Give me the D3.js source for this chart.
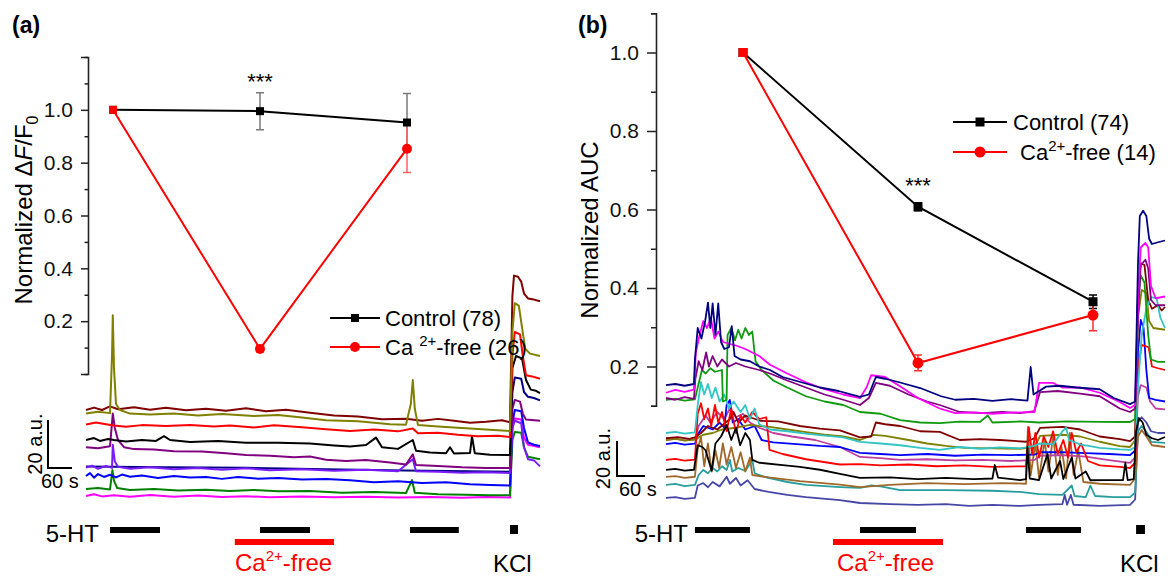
<!DOCTYPE html>
<html><head><meta charset="utf-8">
<script src="https://cdn.jsdelivr.net/npm/d3@7"></script>
<style>body{margin:0;background:#fff}svg{display:block}text{font-family:"Liberation Sans",Arial,sans-serif}</style>
</head><body><svg id="c" width="1172" height="578"></svg>
<script>
// ---------- summary data ----------
const applications = [0, 1, 2];
const controlA = [1.0, 0.995, 0.952];
const controlAErr = [0, 0.07, 0.11];
const cafreeA = [1.0, 0.095, 0.853];
const cafreeAErr = [0, 0.012, 0.09];
const controlB = [1.0, 0.607, 0.365];
const controlBErr = [0, 0.01, 0.017];
const cafreeB = [1.0, 0.209, 0.331];
const cafreeBErr = [0, 0.02, 0.04];
const legendA = ["Control (78)", "(26)"];
const legendB = ["Control (74)", "(14)"];
const majorTicksA = [0, 0.2, 0.4, 0.6, 0.8, 1.0, 1.2];
const minorTicksA = [0.1, 0.3, 0.5, 0.7, 0.9, 1.1];
const labelTicks = [0.2, 0.4, 0.6, 0.8, 1.0];
const majorTicksB = [0.2, 0.4, 0.6, 0.8, 1.0];
const minorTicksB = [0.1, 0.3, 0.5, 0.7, 0.9, 1.1];

// stimulus periods (s): [start, end]
const htA = [[60, 185], [435, 560], [810, 932]];
const kclA = [1060, 1080];
const caFreeA = [372, 620];
const htB = [[62, 180], [416, 536], [772, 890]];
const kclB = [1008, 1027];
const caFreeB = [358, 594];

// ---------- trace data (a): [time s, a.u.] ----------
const aNavy = [[0,14],[200,13.6],[400,13.4],[600,12.8],[800,12.3],[1060,11.8],[1066,45],[1072,51],[1088,50.5],[1095,45],[1105,43],[1120,42.5],[1135,41.5]];
const aMagenta = [[0,1.7],[20,2.4],[40,1.5],[70,2],[110,1.4],[160,2.1],[220,1.4],[280,1.9],[340,1.2],[400,1.6],[460,1.1],[540,1.5],[620,1.1],[700,1.4],[780,1],[860,1.3],[940,0.9],[1000,1.2],[1060,1],[1066,30],[1072,34],[1088,33.5],[1095,26],[1105,23],[1135,22]];
const aGreen = [[0,4.6],[30,5],[60,4.4],[66,12.5],[70,8],[78,5],[110,4.2],[170,4.6],[230,4],[300,4.3],[360,3.8],[420,4.2],[480,3.6],[560,3.7],[640,3],[720,3.3],[800,2.9],[815,8.3],[822,3],[880,2.4],[950,2.2],[1010,2],[1060,2],[1066,25],[1072,28.3],[1088,28],[1095,22],[1105,18],[1120,17.5],[1135,17]];
const aBlue = [[0,10],[10,11.2],[20,9.3],[30,10.8],[45,9.6],[60,10.5],[75,9.4],[90,10.6],[110,9.7],[140,10.2],[180,9.2],[220,10],[260,9.4],[300,9.6],[340,8.8],[380,9.6],[430,8.9],[480,9.2],[540,8.5],[600,8.8],[660,8.2],[720,7.4],[780,7.8],[840,7.1],[900,7.4],[960,6.6],[1010,6.3],[1060,6],[1066,32],[1072,37.5],[1088,37],[1095,30],[1105,24],[1120,23],[1135,22.5]];
const aViolet = [[0,13.5],[15,14.3],[30,13],[50,14.2],[65,13.4],[67,23],[72,16],[80,13.8],[110,13],[160,13.6],[220,12.8],[280,13.3],[340,12.6],[400,13.2],[460,12.4],[540,12.8],[620,12.2],[700,12.6],[780,12],[817,17],[825,12],[880,11.8],[940,11.4],[1000,11.6],[1060,11.2],[1066,30],[1072,33],[1088,32],[1095,22],[1105,17],[1120,16.5],[1135,14]];
const aPurple = [[0,22],[30,21.6],[60,22.4],[67,36],[72,30],[80,25],[95,22],[120,21.2],[170,21],[220,20.3],[290,20.2],[350,19.5],[400,18.8],[460,18.4],[520,17.8],[560,18.1],[600,16.8],[650,16.2],[700,16.7],[760,15.6],[800,14.8],[817,19],[825,14.6],[880,14.2],[940,13.6],[1000,13.3],[1060,13.3],[1066,38],[1072,41.7],[1085,41],[1092,36],[1100,33.5],[1135,33]];
const aBlack = [[0,25],[20,25.8],[35,24.6],[55,25.4],[70,25],[100,24.4],[140,25],[175,24.6],[195,26.6],[210,25],[260,24.2],[330,24.6],[400,23.9],[480,23.9],[560,23.5],[620,22.7],[660,22.3],[700,22.9],[725,26],[740,22],[780,21.3],[817,25],[825,20.5],[860,19.8],[900,19.5],[910,22],[920,19.4],[960,19.6],[965,26.5],[972,19.5],[1010,18.9],[1060,18.8],[1066,55],[1075,60],[1090,59],[1100,50],[1112,46],[1125,45.5],[1135,44.5]];
const aRed = [[0,31.5],[25,32.3],[50,31.6],[70,31],[100,30.5],[140,31.2],[200,30.8],[260,31.3],[320,30.6],[360,31],[420,30.2],[470,31.1],[540,30.3],[600,29.5],[660,28.8],[720,29.4],[780,28.6],[817,29.8],[830,27.8],[880,28],[930,27.2],[980,26.6],[1030,26.8],[1060,26.2],[1066,60],[1072,70],[1085,69],[1092,60],[1100,52],[1115,51.5],[1135,50.5]];
const aMaroon = [[0,37.5],[20,38.5],[40,37.5],[60,39],[80,37.8],[120,38.6],[160,37.6],[200,38.4],[250,37.4],[300,38],[350,37.2],[400,38.2],[450,37],[500,37.6],[560,36.4],[620,35.2],[680,34.8],[740,33.6],[800,33.9],[840,33],[880,33.8],[920,33],[960,32.2],[1000,32.6],[1040,33.2],[1060,32.4],[1066,85],[1070,93.5],[1080,93],[1088,91],[1095,86],[1105,84],[1120,83.5],[1135,82.8]];
const aOlive = [[0,36],[30,36.8],[60,36.2],[65,60],[67,77],[70,55],[75,40],[85,37.5],[110,36],[160,35.6],[220,36],[280,35.2],[340,35.8],[420,35],[480,35.4],[540,34.4],[600,33.2],[680,32.8],[760,31.6],[800,31.4],[812,40],[817,50],[822,38],[830,31.2],[880,30.6],[940,30],[1000,29.4],[1060,28.8],[1066,70],[1072,82],[1082,81],[1090,72],[1098,63],[1110,61],[1135,60]];

// ---------- trace data (b): [time s, a.u.] ----------
const bSlate = [[0,6.9],[20,7.4],[40,6.3],[62,6.9],[68,14],[80,15.4],[90,13],[100,16],[115,13.5],[130,19],[137,15],[150,18.3],[160,14],[175,17],[190,12],[220,10.3],[260,8.6],[300,7.4],[373,5.7],[416,4],[480,3.4],[540,2.9],[600,3.4],[650,2.3],[700,2.9],[760,2.3],[800,2.9],[850,3.4],[855,8.6],[860,3],[868,8.6],[874,3],[930,2.3],[995,2.9],[1006,6],[1012,50],[1020,53],[1030,50],[1040,45],[1055,44],[1070,44]];
const bTeal = [[0,14.3],[20,14.9],[40,13.7],[62,14.3],[70,20],[80,22.9],[90,21],[100,24],[110,22],[120,25],[130,22.9],[137,28.6],[142,22],[155,24],[170,22.3],[185,28.6],[190,21],[210,19],[260,16],[300,14.3],[373,13.1],[416,12.6],[440,14],[460,13.5],[502,11.4],[600,11.4],[700,11],[759,10.3],[800,9.1],[850,8.6],[870,14],[876,8],[900,7.4],[910,14],[920,8],[960,7.4],[995,7.4],[1006,10],[1012,45],[1020,48],[1032,44],[1040,38.9],[1070,38.3]];
const bBrown = [[0,18.9],[20,19.4],[40,18.3],[62,19],[68,35],[75,41.7],[82,25],[90,38],[98,22],[106,34],[114,24],[122,38],[130,26],[140,36],[150,24],[160,33],[170,22],[180,30],[185,20],[220,18.6],[287,16.5],[373,14.5],[416,13.1],[480,14.3],[560,15.4],[640,14.8],[720,15.4],[772,15],[776,47.4],[782,20],[792,38],[800,18],[812,40],[820,22],[830,42],[840,20],[848,36],[858,18],[866,44],[874,20],[884,34],[895,16],[930,15],[995,14.3],[1006,18],[1012,42],[1020,45.7],[1030,42],[1042,37],[1070,36]];
const bViolet = [[0,40],[20,40.6],[40,39.8],[62,40.4],[70,48],[85,54],[95,50],[110,56],[125,52],[137,58],[150,53],[165,55],[180,50],[200,47],[230,44],[270,42],[320,40],[373,36],[416,30.3],[460,29.7],[502,28.6],[560,29],[620,28.3],[680,28.6],[740,28],[790,28.6],[802,31],[850,31.4],[900,30.5],[950,28.5],[995,26.9],[1006,30],[1012,65],[1018,71.4],[1030,70],[1038,62],[1050,58],[1070,57.5]];
const bBlue = [[0,37.7],[20,38.3],[40,37.3],[62,37.9],[70,44],[80,48],[100,46],[115,50],[125,47],[130,60],[137,62.9],[143,50],[155,52],[170,46],[190,48],[205,40],[230,38.6],[280,37.7],[330,36.6],[373,36],[416,32.6],[460,32],[502,31.4],[560,32],[620,31],[680,31.6],[740,31.4],[790,31.6],[802,33],[850,33],[900,32.5],[950,32],[995,31.4],[1006,34],[1012,90],[1018,108.6],[1024,104],[1030,80],[1036,64],[1050,62.9],[1070,62]];
const bOlive = [[0,40],[20,40.8],[40,39.6],[62,40.2],[80,43],[100,44],[120,46],[150,47],[180,48.6],[200,48],[223,47.5],[260,46],[300,44.5],[340,43],[380,42],[416,40],[445,42.9],[470,42.3],[520,40],[560,38],[600,36.6],[640,35.5],[700,35.2],[759,35],[790,36],[802,42.3],[850,43],[888,42],[930,39],[973,36.5],[995,36],[1006,40],[1012,110],[1020,125.7],[1030,124],[1036,108],[1045,104],[1070,103]];
const bMaroon = [[0,41],[25,41.6],[50,40.6],[62,41.5],[75,44],[90,48],[110,46],[137,52],[145,56],[155,50],[170,54],[180,53],[202,51],[240,50.6],[287,48],[330,46.5],[373,45.5],[416,41.5],[440,42],[450,50],[470,49],[502,48],[545,45],[587,44.6],[630,40],[673,40.5],[716,40],[772,39],[790,41],[802,46.9],[850,47.5],[888,46],[930,42],[973,40.5],[995,39.4],[1006,42],[1012,125],[1018,141],[1026,140],[1034,120],[1042,115],[1055,117],[1063,114],[1070,116]];
const bCyan = [[0,44],[20,44.6],[40,43.6],[62,44.4],[68,60],[75,73],[82,66],[90,72],[98,64],[106,70],[115,62],[125,66],[135,58],[145,62],[160,56],[170,60],[180,52],[190,58],[200,49],[223,46],[260,45],[300,43.6],[340,42.5],[380,41.5],[416,38.9],[460,38],[502,37],[545,35.5],[587,34.3],[630,36],[673,35],[716,35.8],[760,35.2],[790,36.6],[800,38],[830,37.5],[850,45],[858,47],[864,40],[888,37.5],[930,35.5],[973,34.6],[995,34.3],[1006,36],[1012,70],[1020,100],[1030,115],[1040,121.7],[1052,121],[1060,110],[1070,104]];
const bRed = [[0,28.6],[20,29.2],[40,28.2],[62,28.8],[68,55],[75,61],[82,52],[90,58],[97,48],[105,60],[112,50],[120,56],[130,45],[140,58],[150,44],[160,54],[170,50],[185,56],[200,52],[215,53],[222,34.3],[250,32],[300,29],[373,26],[416,26.2],[460,25.5],[520,26],[580,25],[640,25.5],[700,24.6],[772,25],[778,47.4],[785,32],[792,44],[800,30],[810,42],[820,36],[830,45],[840,32],[852,40],[862,30],[870,44],[880,33],[890,38],[905,28],[930,25.5],[973,24.6],[995,24],[1006,27],[1012,80],[1020,94.3],[1035,93],[1042,82],[1055,81],[1070,80]];
const bGreen = [[0,62.9],[20,63.5],[40,62.5],[62,63.2],[77,80],[85,78],[95,81],[105,79],[120,80],[122,62],[130,63],[132,100],[140,104],[148,97],[155,103],[162,98],[170,104],[178,100],[185,102],[192,85],[205,80],[230,74],[260,70],[300,65],[340,62],[380,60],[416,56],[460,55],[502,51.4],[545,50],[587,49.7],[630,50.5],[673,50.3],[690,54],[700,50],[760,50.6],[800,50],[860,50.6],[930,50.3],[995,50.3],[1006,52],[1012,120],[1018,134],[1026,130],[1034,100],[1040,86],[1055,84.6],[1070,84.6]];
const bPurple = [[0,64],[20,63],[40,64.5],[60,63.5],[63,75],[70,85],[78,80],[86,90],[92,82],[100,88],[110,82],[120,86],[135,82],[150,84],[170,82],[200,80],[223,78],[260,74],[300,70],[340,66],[380,63],[416,60],[435,64],[450,72.6],[480,71],[520,66],[560,62],[587,60],[630,56],[680,55.4],[720,56],[759,55.4],[790,56.5],[802,67.4],[840,68],[888,66.5],[930,65],[973,58],[995,56],[1006,58],[1012,110],[1018,140],[1028,143],[1034,138],[1040,120],[1050,117],[1070,117]];
const bMagenta = [[0,67],[20,68.6],[40,67.5],[60,68.8],[64,90],[72,100],[80,108],[88,104],[96,110],[104,98],[112,102],[122,96],[135,95],[150,94],[170,92],[200,88],[223,83],[260,78],[300,73],[340,69],[380,66],[416,64],[430,70],[440,77],[470,76],[500,71],[540,64],[587,58],[620,55.4],[660,55.8],[700,55],[740,55.6],[790,56],[800,72.6],[830,72.6],[850,70],[888,70],[930,67],[973,61.7],[995,58.3],[1006,60],[1012,120],[1018,150],[1028,152.6],[1034,150],[1040,128],[1050,121],[1070,122]];
const bNavy = [[0,71.4],[20,72],[40,71],[60,72],[62,86],[68,104],[76,98],[84,108],[90,118.5],[95,104],[100,118],[106,100],[112,118],[118,96],[125,92],[135,93],[141,105],[147,88],[160,86],[180,85],[200,82],[223,80],[250,76],[290,73],[330,70],[370,68],[416,64.6],[435,66],[450,76],[470,75],[500,73],[545,69.7],[590,65],[620,63],[660,63.5],[700,62.4],[740,63.3],[775,62.5],[782,81.7],[788,66],[800,68],[815,70.5],[845,71],[880,70],[930,69],[960,64],[995,60.5],[1006,62],[1012,140],[1016,168],[1023,171],[1030,168],[1036,155],[1042,152],[1055,153],[1070,154]];
const bBlack = [[0,22.9],[20,23.5],[40,22.5],[60,23],[68,37],[78,36],[85,34],[98,22.5],[106,38],[118,42],[130,48.6],[140,40],[150,47],[159,37],[170,44],[180,40],[185,28.6],[200,27],[250,25.7],[287,24.6],[330,23],[373,20.6],[416,18.3],[480,18.6],[540,17.7],[600,18.3],[660,17.7],[700,18],[705,25.7],[712,18.5],[759,17.1],[772,17.7],[775,36],[780,18],[800,17.1],[818,32],[826,18],[845,28],[852,17.7],[870,30],[878,18],[900,22],[910,17],[940,17.1],[980,17.1],[985,27],[990,17.1],[1003,17.7],[1008,45],[1014,52.6],[1022,50],[1030,43],[1042,41],[1055,40],[1070,41.7]];

const tracesA = [aNavy, aMagenta, aGreen, aBlue, aViolet, aPurple, aBlack, aRed, aMaroon, aOlive];
const colorsA = ["#000080","#ff00ff","#008000","#0000ff","#7a1cff","#800080","#000000","#ff0000","#800000","#808000"];
const tracesB = [bSlate, bTeal, bBrown, bViolet, bBlue, bOlive, bMaroon, bRed, bCyan, bGreen, bPurple, bMagenta, bNavy, bBlack];
const colorsB = ["#4646a6","#279d9d","#a0692a","#bf3f9f","#0000ff","#808000","#800000","#ff0000","#33c4c4","#109a10","#800080","#ff00ff","#000080","#000000"];

// ---------- drawing ----------
const svg = d3.select("#c");
const FONT = '"Liberation Sans", Arial, sans-serif';

function panel(cfg) {
  const g = svg.append("g");
  const xt = d3.scaleLinear().domain(cfg.tDomain).range(cfg.tRange);
  const yt = d3.scaleLinear().domain([0, 100]).range(cfg.vRange);
  const line = d3.line().x(d => xt(d[0])).y(d => yt(d[1]));
  // traces
  cfg.traces.forEach((tr, i) => {
    g.append("path").attr("d", line(tr)).attr("fill", "none")
      .attr("stroke", cfg.colors[i]).attr("stroke-width", cfg.traceW).attr("stroke-linejoin", "round");
  });
  // scale bar
  const sb = cfg.scaleBar;
  g.append("path").attr("fill", "none").attr("stroke", "#000").attr("stroke-width", 2)
    .attr("d", `M${xt(sb.t)},${yt(sb.v + 20)}V${yt(sb.v)}H${xt(sb.t + 60)}`);
  g.append("text").attr("transform", `translate(${sb.auX},${(yt(sb.v) + yt(sb.v + 20)) / 2}) rotate(-90)`)
    .attr("text-anchor", "middle").attr("font-size", 20).text("20 a.u.");
  g.append("text").attr("x", sb.sX).attr("y", sb.sY).attr("font-size", 20).text("60 s");
  // stimulus bars
  cfg.ht.forEach(p => g.append("rect").attr("x", xt(p[0])).attr("width", xt(p[1]) - xt(p[0]))
    .attr("y", cfg.barY).attr("height", 6).attr("fill", "#000"));
  g.append("rect").attr("x", xt(cfg.kcl[0])).attr("width", xt(cfg.kcl[1]) - xt(cfg.kcl[0]))
    .attr("y", cfg.barY - 2).attr("height", 9).attr("fill", "#000");
  g.append("rect").attr("x", xt(cfg.ca[0])).attr("width", xt(cfg.ca[1]) - xt(cfg.ca[0]))
    .attr("y", cfg.barY + 12).attr("height", 6).attr("fill", "#ff0000");
  g.append("text").attr("x", cfg.htX).attr("y", 542).attr("text-anchor", "end").attr("font-size", 24).text("5-HT");
  const ct = g.append("text").attr("x", cfg.caX).attr("y", 571).attr("font-size", 24).attr("fill", "#ff0000");
  ct.append("tspan").text("Ca");
  ct.append("tspan").attr("dy", -10).attr("font-size", 15).text("2+");
  ct.append("tspan").attr("dy", 10).text("-free");
  g.append("text").attr("x", cfg.kclX).attr("y", 572).attr("font-size", 24).text("KCl");

  // summary axis
  const y = d3.scaleLinear().domain(cfg.yDomain).range(cfg.yRange);
  const x = d3.scaleLinear().domain([0, 2]).range(cfg.xRange);
  const ax = g.append("g").attr("transform", `translate(${cfg.axisX},0)`);
  ax.call(d3.axisLeft(y).tickValues(cfg.minor).tickSize(cfg.minorLen).tickFormat(""));
  ax.append("g").call(d3.axisLeft(y).tickValues(cfg.major).tickSize(cfg.majorLen).tickPadding(cfg.pad)
    .tickFormat(d => labelTicks.some(v => Math.abs(v - d) < 1e-9) ? d3.format(".1f")(d) : ""));
  ax.selectAll("path.domain").attr("stroke", "#222").attr("stroke-width", 1.6);
  ax.selectAll(".tick line").attr("stroke", "#222").attr("stroke-width", 1.5);
  ax.selectAll(".tick text").attr("font-size", 21).attr("font-family", FONT).attr("fill", "#111");
  ax.selectAll("path.domain").filter((d, i) => i > 0).remove();

  // axis title
  const tt = g.append("text").attr("transform", `translate(${cfg.titleX},${cfg.titleY}) rotate(-90)`)
    .attr("text-anchor", "middle").attr("font-size", 24);
  cfg.title(tt);

  // series
  const sl = d3.line().x((d, i) => x(applications[i])).y(d => y(d));
  g.append("path").attr("d", sl(cfg.ctrl)).attr("fill", "none").attr("stroke", "#000").attr("stroke-width", 2);
  g.append("path").attr("d", sl(cfg.caf)).attr("fill", "none").attr("stroke", "#ff0000").attr("stroke-width", 2);
  function err(vals, errs, color) {
    vals.forEach((v, i) => {
      if (!errs[i]) return;
      const cx = x(applications[i]);
      g.append("path").attr("fill", "none").attr("stroke", color).attr("stroke-width", 1.5)
        .attr("d", `M${cx - 4},${y(v + errs[i])}H${cx + 4}M${cx},${y(v + errs[i])}V${y(v - errs[i])}M${cx - 4},${y(v - errs[i])}H${cx + 4}`);
    });
  }
  err(cfg.ctrl, cfg.ctrlErr, cfg.ctrlErrColor);
  err(cfg.caf, cfg.cafErr, cfg.cafErrColor);
  cfg.ctrl.forEach((v, i) => g.append("rect").attr("x", x(applications[i]) - cfg.sq / 2).attr("y", y(v) - cfg.sq / 2)
    .attr("width", cfg.sq).attr("height", cfg.sq).attr("fill", "#000"));
  cfg.caf.forEach((v, i) => {
    if (i === 0) {
      g.append("rect").attr("x", x(applications[i]) - cfg.sq / 2).attr("y", y(v) - cfg.sq / 2)
        .attr("width", cfg.sq).attr("height", cfg.sq).attr("fill", "#ff0000");
    } else {
      g.append("circle").attr("cx", x(applications[i])).attr("cy", y(v)).attr("r", cfg.r).attr("fill", "#ff0000");
    }
  });
  g.append("text").attr("x", x(1)).attr("y", cfg.starY).attr("text-anchor", "middle").attr("font-size", 22).text("***");

  // legend
  const L = cfg.legend;
  g.append("line").attr("x1", L.x1).attr("x2", L.x2).attr("y1", L.y1).attr("y2", L.y1).attr("stroke", "#000").attr("stroke-width", 2);
  g.append("rect").attr("x", (L.x1 + L.x2) / 2 - cfg.sq / 2).attr("y", L.y1 - cfg.sq / 2).attr("width", cfg.sq).attr("height", cfg.sq).attr("fill", "#000");
  g.append("line").attr("x1", L.x1).attr("x2", L.x2).attr("y1", L.y2).attr("y2", L.y2).attr("stroke", "#ff0000").attr("stroke-width", 2);
  g.append("circle").attr("cx", (L.x1 + L.x2) / 2).attr("cy", L.y2).attr("r", cfg.r).attr("fill", "#ff0000");
  g.append("text").attr("x", L.tx1).attr("y", L.y1 + 8).attr("font-size", 22).text(cfg.legendText[0]);
  const lt = g.append("text").attr("x", L.tx2).attr("y", L.y2 + 8).attr("font-size", 22);
  lt.append("tspan").text(L.caLabel);
  lt.append("tspan").attr("dy", -9).attr("font-size", 15).text("2+");
  lt.append("tspan").attr("dy", 9).text("-free " + cfg.legendText[1]);

  // panel label
  g.append("text").attr("x", cfg.lblX).attr("y", cfg.lblY).attr("font-size", 23).attr("font-weight", "bold").text(cfg.lbl);
}

panel({
  traces: tracesA, colors: colorsA, traceW: 2,
  tDomain: [0, 1135], tRange: [86, 540], vRange: [500, 260],
  scaleBar: { t: -95, v: 13.3, auX: 42, sX: 41, sY: 488 },
  ht: htA, kcl: kclA, ca: caFreeA, barY: 527, htX: 99, caX: 235, kclX: 493,
  yDomain: [0, 1.2], yRange: [374, 57], xRange: [113, 407], axisX: 88,
  major: majorTicksA, minor: minorTicksA, majorLen: 7, minorLen: 3.5, pad: 8,
  titleX: 32, titleY: 210,
  title: t => { t.append("tspan").text("Normalized Δ"); t.append("tspan").attr("font-style", "italic").text("F");
    t.append("tspan").text("/F"); t.append("tspan").attr("dy", 6).attr("font-size", 16).text("0"); },
  ctrl: controlA, ctrlErr: controlAErr, caf: cafreeA, cafErr: cafreeAErr,
  ctrlErrColor: "#7a7a7a", cafErrColor: "#ff6060", sq: 8, r: 5, starY: 89,
  legend: { x1: 330, x2: 380, y1: 318, y2: 347, tx1: 385, tx2: 385, caLabel: "Ca " },
  legendText: legendA, lbl: "(a)", lblX: 12, lblY: 33
});

panel({
  traces: tracesB, colors: colorsB, traceW: 1.8,
  tDomain: [0, 1070], tRange: [666, 1165], vRange: [510, 335],
  scaleBar: { t: -105, v: 19.4, auX: 610, sX: 619, sY: 496 },
  ht: htB, kcl: kclB, ca: caFreeB, barY: 527, htX: 688, caX: 837, kclX: 1120,
  yDomain: [0.1, 1.1], yRange: [405.75, 13.25], xRange: [743, 1093], axisX: 656,
  major: majorTicksB, minor: minorTicksB, majorLen: 9, minorLen: 5, pad: 8,
  titleX: 598, titleY: 230,
  title: t => { t.text("Normalized AUC"); },
  ctrl: controlB, ctrlErr: controlBErr, caf: cafreeB, cafErr: cafreeBErr,
  ctrlErrColor: "#000", cafErrColor: "#ff3030", sq: 9, r: 5.5, starY: 193,
  legend: { x1: 953, x2: 1007, y1: 122, y2: 152, tx1: 1013, tx2: 1020, caLabel: "Ca" },
  legendText: legendB, lbl: "(b)", lblX: 578, lblY: 33
});
</script></body></html>
